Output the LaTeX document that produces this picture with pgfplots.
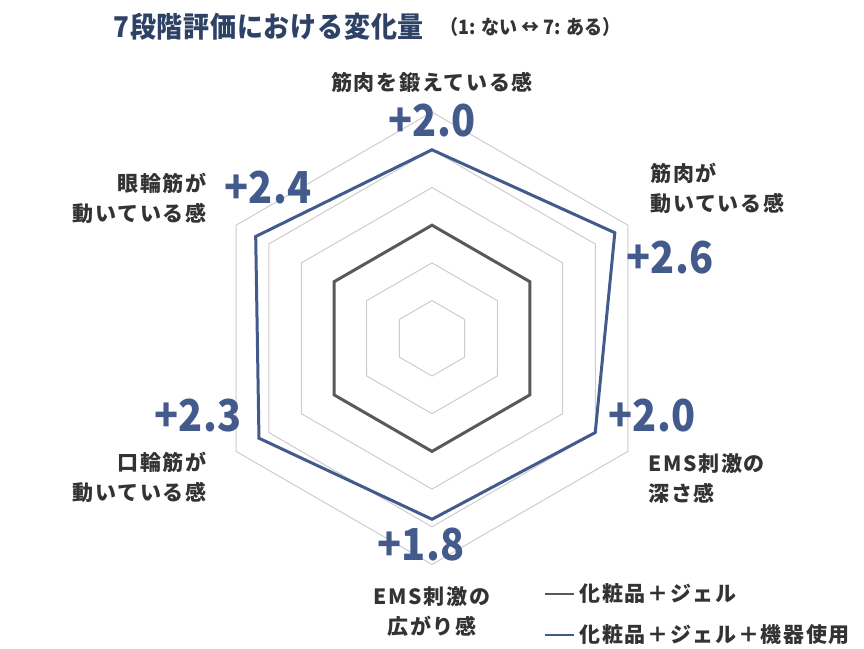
\documentclass[border=0pt]{standalone}
\usepackage{pgfplots}
\pgfplotsset{compat=1.18}
\usepackage{fontspec}
\setmainfont{Noto Sans CJK JP}
\newfontfamily\lab{Noto Sans CJK JP}[LetterSpace=8]
\newfontfamily\ttl{Noto Sans CJK JP}[LetterSpace=3]
\definecolor{navy}{HTML}{435B8C}
\definecolor{titlec}{HTML}{2E4267}
\definecolor{seriesg}{HTML}{595959}
\definecolor{gridc}{HTML}{CDCDCD}
\definecolor{txt}{HTML}{333333}
\newcommand\numtxt[1]{\scalebox{0.9}[1]{#1}}

\begin{document}
\begin{tikzpicture}[
  lbl/.style={font=\lab\bfseries\fontsize{10.5pt}{15pt}\selectfont, text=txt, inner sep=0pt},
  num/.style={font=\bfseries\fontsize{22pt}{22pt}\selectfont, text=navy, inner sep=0pt},
]
\begin{axis}[
  x=18.85pt, y=18.85pt,
  xmin=-11.459, xmax=11.459, ymin=-8.215, ymax=8.973,
  hide axis, clip=false,
  legend style={at={(0.6296,0.0517)}, anchor=west, draw=none, fill=none,
    inner sep=0pt, font=\lab\bfseries\fontsize{10.5pt}{12pt}\selectfont,
    text=txt, row sep=6pt, cells={anchor=west}},
  legend image code/.code={\draw[#1, line width=1pt] (0pt,0pt) -- (14.5pt,0pt);},
]
% hexagonal grid rings
\addplot[gridc, line width=0.5pt, data cs=polar, forget plot] coordinates {(90,1) (30,1) (-30,1) (-90,1) (-150,1) (150,1)} -- cycle;
\addplot[gridc, line width=0.5pt, data cs=polar, forget plot] coordinates {(90,2) (30,2) (-30,2) (-90,2) (-150,2) (150,2)} -- cycle;
\addplot[gridc, line width=0.5pt, data cs=polar, forget plot] coordinates {(90,3) (30,3) (-30,3) (-90,3) (-150,3) (150,3)} -- cycle;
\addplot[gridc, line width=0.5pt, data cs=polar, forget plot] coordinates {(90,4) (30,4) (-30,4) (-90,4) (-150,4) (150,4)} -- cycle;
\addplot[gridc, line width=0.5pt, data cs=polar, forget plot] coordinates {(90,5) (30,5) (-30,5) (-90,5) (-150,5) (150,5)} -- cycle;
\addplot[gridc, line width=0.5pt, data cs=polar, forget plot] coordinates {(90,6) (30,6) (-30,6) (-90,6) (-150,6) (150,6)} -- cycle;
% series (radius = score - 1)
\addplot[seriesg, line width=1.5pt, line join=miter, data cs=polar] coordinates {(90,3) (30,3) (-30,3) (-90,3) (-150,3) (150,3)} -- cycle;
\addlegendentry{化粧品＋ジェル}
\addplot[navy, line width=1.5pt, line join=miter, data cs=polar] coordinates {(90,5.0) (30,5.6) (-30,5.0) (-90,4.8) (-150,5.3) (150,5.4)} -- cycle;
\addlegendentry{化粧品＋ジェル＋機器使用}
\end{axis}
\begin{scope}[shift={(current axis.north west)}, x=0.5pt, y=-0.5pt]
  \node[anchor=west, inner sep=0pt, text=titlec, font=\ttl\bfseries\fontsize{13pt}{15pt}\selectfont] at (113,27) {\scalebox{1}[1.1]{7段階評価における変化量}};
  \node[anchor=west, inner sep=0pt, text=txt, font=\bfseries\fontsize{9pt}{11pt}\selectfont] at (440,27) {\scalebox{1}[1.1]{（1: ない ↔ 7: ある）}};
  \node[lbl] at (432,82) {筋肉を鍛えている感};
  \node[lbl, anchor=west, align=left] at (650,188) {筋肉が\\動いている感};
  \node[lbl, anchor=west, align=left] at (648,478) {EMS刺激の\\深さ感};
  \node[lbl, align=center] at (432,612) {EMS刺激の\\広がり感};
  \node[lbl, anchor=east, align=right] at (207,477) {口輪筋が\\動いている感};
  \node[lbl, anchor=east, align=right] at (207,198) {眼輪筋が\\動いている感};
  \node[num] at (432,121) {\numtxt{+2.0}};
  \node[num] at (670,258) {\numtxt{+2.6}};
  \node[num] at (652,416) {\numtxt{+2.0}};
  \node[num] at (421,545) {\numtxt{+1.8}};
  \node[num] at (198,416) {\numtxt{+2.3}};
  \node[num] at (268,188) {\numtxt{+2.4}};
\end{scope}
\pgfresetboundingbox
\useasboundingbox (current axis.south west) rectangle (current axis.north east);
\end{tikzpicture}
\end{document}
